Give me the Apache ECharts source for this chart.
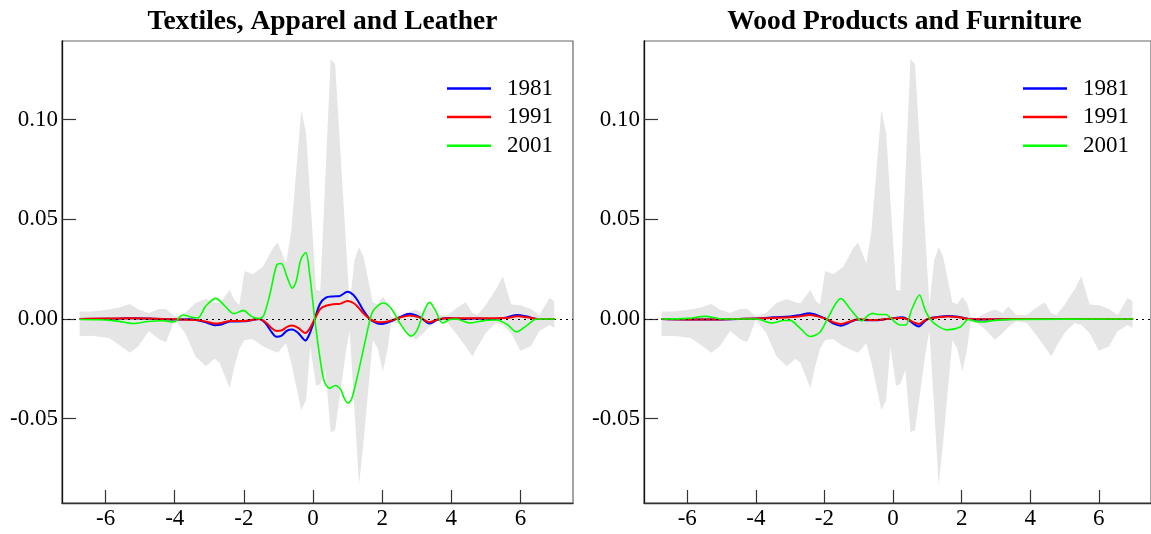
<!DOCTYPE html>
<html lang="en">
<head>
<meta charset="UTF-8">
<title>Textiles / Wood</title>
<script src="https://cdn.jsdelivr.net/npm/echarts@6.0.0/dist/echarts.min.js"></script>
<style>
  html, body { margin: 0; padding: 0; background: #fff; }
  #chart { width: 1151px; height: 534px; }
</style>
</head>
<body>
<div id="chart"></div>
<script>
// panel titles and legend
const titles = ['Textiles, Apparel and Leather', 'Wood Products and Furniture'];
const years = ['1981', '1991', '2001'];
const colors = ['#0000ff', '#ff0000', '#00ff00'];
const xTicks = [-6, -4, -2, 0, 2, 4, 6];
const yTicks = [-0.05, 0, 0.05, 0.1];

// grey band (same in both panels)
const bandX = [-6.75,-6.4,-5.9,-5.6,-5.3,-5.05,-4.75,-4.46,-4.25,-4.0,-3.7,-3.4,-3.1,-2.85,-2.7,-2.41,-2.27,-2.13,-1.98,-1.74,-1.45,-1.16,-1.02,-0.78,-0.63,-0.34,-0.2,-0.08,0.09,0.21,0.36,0.51,0.64,0.96,1.06,1.2,1.33,1.46,1.73,1.87,2.02,2.16,2.26,2.45,2.7,2.97,3.2,3.36,3.6,3.9,4.2,4.42,4.61,4.76,5.0,5.1,5.3,5.49,5.73,6.0,6.3,6.55,6.84,6.98];
const bandHi = [0.0037,0.0037,0.0047,0.0058,0.0075,0.0047,0.003,0.005,0.005,0.0013,0.003,0.008,0.010,0.0084,0.0079,0.0145,0.0095,0.007,0.024,0.0224,0.0262,0.0354,0.0383,0.0279,0.0438,0.1048,0.0931,0.0606,0.0145,0.014,0.072,0.1304,0.1277,0.036,0.007,0.0296,0.036,0.0313,0.0084,0.0074,0.0112,0.0079,0.0012,0.0005,0.003,0.0047,0.003,0.0064,0.002,0.002,0.006,0.0084,0.003,0.002,0.007,0.0097,0.015,0.0214,0.0072,0.0069,0.005,0.002,0.0105,0.0089];
const bandLo = [-0.0087,-0.0084,-0.0095,-0.013,-0.017,-0.0137,-0.006,-0.010,-0.0117,-0.0004,-0.007,-0.0187,-0.0237,-0.020,-0.022,-0.0348,-0.0239,-0.015,-0.0105,-0.0102,-0.0137,-0.016,-0.0169,-0.0122,-0.022,-0.0456,-0.0406,-0.0139,-0.0336,-0.0326,-0.0256,-0.057,-0.0557,-0.0155,-0.006,-0.045,-0.0833,-0.062,-0.0105,-0.0147,-0.0264,-0.015,-0.0017,-0.002,-0.0054,-0.0104,-0.007,-0.004,-0.0012,-0.002,-0.0087,-0.014,-0.0187,-0.014,-0.007,-0.005,-0.002,-0.003,-0.007,-0.016,-0.0137,-0.006,-0.003,-0.0045];

// Textiles, Apparel and Leather
const tex1981 = [[-6.75,0],[-5.6,0.0002],[-5.2,0.0004],[-4.6,0.0001],[-4.0,-0.0003],[-3.6,-0.0002],[-3.3,-0.0008],[-3.05,-0.002],[-2.85,-0.0032],[-2.65,-0.0028],[-2.4,-0.0013],[-2.0,-0.0012],[-1.75,-0.0005],[-1.56,0],[-1.38,-0.002],[-1.2,-0.0065],[-1.06,-0.0089],[-0.92,-0.0085],[-0.75,-0.0058],[-0.6,-0.0053],[-0.43,-0.007],[-0.22,-0.0108],[-0.1,-0.0075],[0.05,0],[0.2,0.0075],[0.37,0.0107],[0.58,0.0113],[0.75,0.0114],[1.0,0.0136],[1.17,0.012],[1.3,0.009],[1.45,0.0045],[1.66,-0.0003],[1.85,-0.0022],[2.0,-0.0025],[2.25,-0.0012],[2.52,0.001],[2.8,0.0026],[3.05,0.0013],[3.2,-0.0005],[3.37,-0.0023],[3.6,-0.0004],[3.9,0.0005],[4.3,0],[4.7,0.0002],[5.2,0],[5.6,0.0008],[5.9,0.002],[6.2,0.0012],[6.5,0],[7.0,0]];
const tex1991 = [[-6.75,0],[-5.2,0.0003],[-4.0,-0.0002],[-3.3,-0.0006],[-3.05,-0.0015],[-2.85,-0.0023],[-2.65,-0.002],[-2.4,-0.001],[-2.0,-0.001],[-1.56,0],[-1.38,-0.0015],[-1.2,-0.0045],[-1.06,-0.006],[-0.92,-0.0058],[-0.75,-0.004],[-0.6,-0.0033],[-0.43,-0.0045],[-0.22,-0.007],[-0.1,-0.005],[0.05,0],[0.2,0.0048],[0.37,0.0066],[0.58,0.0074],[0.75,0.0075],[1.0,0.009],[1.17,0.008],[1.3,0.006],[1.45,0.003],[1.66,-0.0002],[1.85,-0.0015],[2.0,-0.0017],[2.25,-0.0008],[2.52,0.0007],[2.8,0.0017],[3.05,0.0009],[3.2,-0.0003],[3.37,-0.0016],[3.6,-0.0003],[3.9,0.0003],[5.6,0.0005],[5.9,0.0013],[6.2,0.0008],[6.5,0],[7.0,0]];
const tex2001 = [[-6.75,-0.0003],[-6.2,-0.0004],[-5.85,-0.0007],[-5.5,-0.0015],[-5.2,-0.0023],[-4.78,-0.0013],[-4.35,-0.0009],[-4.03,-0.0015],[-3.76,0.002],[-3.54,0.001],[-3.33,0.0005],[-3.11,0.0063],[-2.81,0.0103],[-2.58,0.0071],[-2.29,0.0026],[-2.02,0.0043],[-1.78,0.0013],[-1.56,0.0002],[-1.42,0.002],[-1.24,0.013],[-1.05,0.027],[-0.92,0.0278],[-0.75,0.021],[-0.6,0.0154],[-0.49,0.0187],[-0.35,0.03],[-0.21,0.0333],[-0.1,0.023],[0.05,0],[0.18,-0.017],[0.32,-0.031],[0.48,-0.0348],[0.64,-0.0334],[0.8,-0.0354],[0.91,-0.040],[1.01,-0.0422],[1.12,-0.040],[1.31,-0.0268],[1.5,-0.0119],[1.66,0.0005],[1.76,0.0046],[2.03,0.008],[2.25,0.0055],[2.57,-0.0036],[2.84,-0.0086],[3.0,-0.006],[3.21,0.0038],[3.37,0.0083],[3.53,0.0046],[3.75,-0.002],[3.96,-0.0003],[4.12,0],[4.55,-0.002],[4.98,-0.0007],[5.3,-0.0005],[5.62,-0.0028],[5.89,-0.0065],[6.16,-0.0036],[6.48,0],[7.0,0]];

// Wood Products and Furniture
const wood1981 = [[-6.75,0],[-5.5,-0.0003],[-4.5,0],[-3.8,0.0003],[-3.5,0.0008],[-3.0,0.0012],[-2.7,0.002],[-2.45,0.0028],[-2.2,0.0018],[-1.95,0],[-1.75,-0.0022],[-1.52,-0.0034],[-1.3,-0.002],[-1.03,-0.0003],[-0.8,-0.0006],[-0.5,-0.0007],[-0.26,-0.0002],[0.0,0.0004],[0.27,0.0008],[0.45,-0.0005],[0.6,-0.0025],[0.75,-0.0038],[0.9,-0.0015],[1.05,0.0003],[1.3,0.001],[1.6,0.0015],[1.9,0.0011],[2.2,0],[2.6,-0.0003],[3.5,0],[7.0,0]];
const wood1991 = [[-6.75,0],[-5.5,-0.0003],[-4.5,0],[-3.5,0.0005],[-3.0,0.0008],[-2.7,0.0014],[-2.45,0.002],[-2.2,0.0013],[-1.95,0],[-1.75,-0.0016],[-1.52,-0.0025],[-1.3,-0.0015],[-1.03,-0.0002],[-0.5,-0.0005],[0.0,0.0003],[0.27,0.0005],[0.45,-0.0003],[0.6,-0.0017],[0.75,-0.0025],[0.9,-0.001],[1.05,0.0002],[1.3,0.0008],[1.6,0.0012],[1.9,0.0009],[2.2,0],[2.6,-0.0002],[3.5,0],[7.0,0]];
const wood2001 = [[-6.75,0],[-6.0,0.0003],[-5.47,0.0013],[-5.04,0.0001],[-4.5,0],[-3.98,0],[-3.54,-0.002],[-3.2,-0.0008],[-3.0,-0.0007],[-2.72,-0.0045],[-2.41,-0.0088],[-2.14,-0.0068],[-1.9,0.0005],[-1.66,0.008],[-1.52,0.0102],[-1.27,0.0055],[-1.03,0.0005],[-0.91,-0.001],[-0.75,0.0015],[-0.6,0.0028],[-0.4,0.0022],[-0.21,0.0022],[0.03,-0.0012],[0.2,-0.003],[0.37,-0.003],[0.55,0.005],[0.77,0.012],[0.93,0.0047],[1.09,-0.0003],[1.3,-0.0035],[1.57,-0.0055],[1.96,-0.004],[2.2,-0.0003],[2.4,-0.0012],[2.59,-0.0015],[2.97,-0.0007],[3.55,-0.0002],[7.0,0]];

const panelLines = [[tex1981, tex1991, tex2001], [wood1981, wood1991, wood2001]];

const FONT = 'Liberation Serif';
const chart = echarts.init(document.getElementById('chart'));

const grids = [
  { left: 62, right: 578, top: 41, bottom: 31 },
  { left: 644, right: -4, top: 41, bottom: 31 }
];
const titleCenters = [317.5, 899.5];
const legendLeft = [442, 1018];

const option = {
  animation: false,
  backgroundColor: '#fff',
  title: titles.map((t, i) => ({
    text: t,
    left: titleCenters[i],
    textAlign: 'center',
    top: 3,
    textStyle: { fontFamily: FONT, fontWeight: 'bold', fontSize: 27.5, color: '#000' }
  })),
  legend: [0, 1].map(i => ({
    data: years,
    orient: 'vertical',
    left: legendLeft[i],
    top: 72,
    icon: 'rect',
    itemWidth: 44,
    itemHeight: 2.5,
    itemGap: 5.6,
    selectedMode: false,
    textStyle: { fontFamily: FONT, fontSize: 23, color: '#000', padding: [0, 0, 0, 11], lineHeight: 22 }
  })),
  grid: grids.map(g => Object.assign({ show: true, borderColor: '#666', borderWidth: 1.2, backgroundColor: 'transparent' }, g)),
  xAxis: [0, 1].map(i => ({
    type: 'value',
    gridIndex: i,
    min: -7.26,
    max: 7.52,
    splitLine: { show: false },
    axisLine: { show: true, onZero: false, lineStyle: { color: '#333', width: 1.3 } },
    axisTick: { show: true, inside: true, length: 13, customValues: xTicks, lineStyle: { color: '#333', width: 1.2 } },
    axisLabel: { customValues: xTicks, margin: 4, fontFamily: FONT, fontSize: 23, color: '#000', formatter: v => String(v) }
  })),
  yAxis: [0, 1].map(i => ({
    type: 'value',
    gridIndex: i,
    min: -0.0923,
    max: 0.1394,
    splitLine: { show: false },
    axisLine: { show: true, onZero: false, lineStyle: { color: '#111', width: 1.3 } },
    axisTick: { show: true, inside: true, length: 14, customValues: yTicks, lineStyle: { color: '#333', width: 1.2 } },
    axisLabel: { customValues: yTicks, margin: 4, fontFamily: FONT, fontSize: 23, color: '#000', formatter: v => v.toFixed(2) }
  })),
  series: []
};

[0, 1].forEach(p => {
  option.series.push({
    type: 'custom',
    xAxisIndex: p,
    yAxisIndex: p,
    silent: true,
    z: 1,
    data: bandX.map((x, i) => [x, bandLo[i], bandHi[i]]),
    encode: { x: 0, y: [1, 2] },
    renderItem: function (params, api) {
      if (params.dataIndex !== 0) return;
      const pts = [];
      for (let i = 0; i < bandX.length; i++) pts.push(api.coord([bandX[i], bandHi[i]]));
      for (let i = bandX.length - 1; i >= 0; i--) pts.push(api.coord([bandX[i], bandLo[i]]));
      return { type: 'polygon', shape: { points: pts }, style: { fill: '#e5e5e5' } };
    }
  });
  years.forEach((y, k) => {
    const s = {
      name: y,
      type: 'line',
      xAxisIndex: p,
      yAxisIndex: p,
      data: panelLines[p][k],
      symbol: 'none',
      smooth: 0.3,
      z: 3 + k,
      lineStyle: { color: colors[k], width: k === 2 ? 1.6 : 2 },
      itemStyle: { color: colors[k] }
    };
    if (k === 0) {
      s.markLine = {
        silent: true,
        symbol: 'none',
        label: { show: false },
        lineStyle: { color: '#000', type: [2, 4], width: 1.2 },
        data: [{ yAxis: 0 }]
      };
    }
    option.series.push(s);
  });
});

chart.setOption(option);
</script>
</body>
</html>
